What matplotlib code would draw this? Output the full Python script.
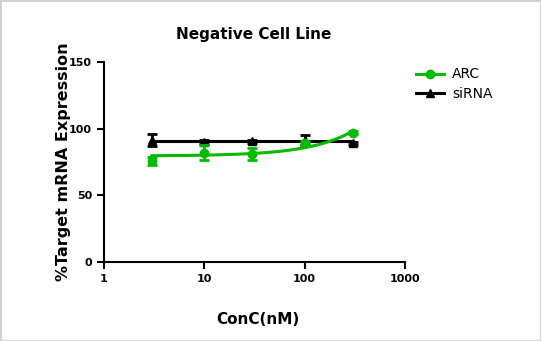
import numpy as np
import matplotlib
matplotlib.use("Agg")
from matplotlib import pyplot as plt
from matplotlib.patches import Rectangle

conc = [3, 10, 30, 100, 300]
arc = [76, 82, 81, 89, 97]
arc_err = [3, 5.5, 4.5, 1.5, 1]
sirna = [91.5, 90, 90.5, 91.5, 89]
sirna_err = [4.5, 1.5, 1, 4, 1]
xticks = [1, 10, 100, 1000]
yticks = [0, 50, 100, 150]

green = "#00bb00"
black = "#000000"

plt.rcParams['font.family'] = ['DejaVu Sans']

fig = plt.figure(figsize=(5.41, 3.41), dpi=100)
fig.patches.append(Rectangle((0, 0), 1, 1, transform=fig.transFigure, fill=False,
                             edgecolor="#cfcfcf", linewidth=2))
ax = fig.add_axes([0.1922, 0.2317, 0.5564, 0.5865])

# fitted curves
xs = np.logspace(np.log10(conc[0]), np.log10(conc[-1]), 200)
p = np.polyfit(conc, arc, 1)
ax.plot(xs, np.polyval(p, xs), color=green, lw=2.2, zorder=3)
ax.plot([conc[0], conc[-1]], [np.mean(sirna)] * 2, color=black, lw=2.2, zorder=2)

ax.errorbar(conc, sirna, yerr=sirna_err, fmt="^", color=black, ms=6, capsize=3.5,
            capthick=2, elinewidth=2, zorder=2)
ax.errorbar(conc, arc, yerr=arc_err, fmt="o", color=green, ms=6, capsize=3.5,
            capthick=2, elinewidth=2, zorder=4)

# legend handles
ax.plot([], [], color=green, lw=2.2, marker="o", ms=6, label="ARC")
ax.plot([], [], color=black, lw=2.2, marker="^", ms=6, label="siRNA")
leg = ax.legend(loc="upper left", bbox_to_anchor=(0.995, 1.035), frameon=False,
                handlelength=2.0, handletextpad=0.6, fontsize=10, labelspacing=0.4)

ax.set_xscale("log")
ax.set_xlim(1, 1000)
ax.set_ylim(0, 150)
ax.set_xticks(xticks)
ax.set_xticklabels([str(t) for t in xticks], fontweight="bold", fontsize=8)
ax.set_yticks(yticks)
ax.set_yticklabels([str(t) for t in yticks], fontweight="bold", fontsize=8)
ax.minorticks_off()
ax.tick_params(direction="out", length=5, width=1.5)
for s in ["top", "right"]:
    ax.spines[s].set_visible(False)
for s in ["left", "bottom"]:
    ax.spines[s].set_linewidth(1.5)

fig.text(0.4695, 0.90, "Negative Cell Line", ha="center", va="center",
         fontweight="bold", fontsize=11)
fig.text(0.118, 0.525, "%Target mRNA Expression", ha="center", va="center",
         rotation=90, fontweight="bold", fontsize=11.5)
fig.text(0.477, 0.062, "ConC(nM)", ha="center", va="center",
         fontweight="bold", fontsize=11)

fig.savefig("out.png", dpi=100)
